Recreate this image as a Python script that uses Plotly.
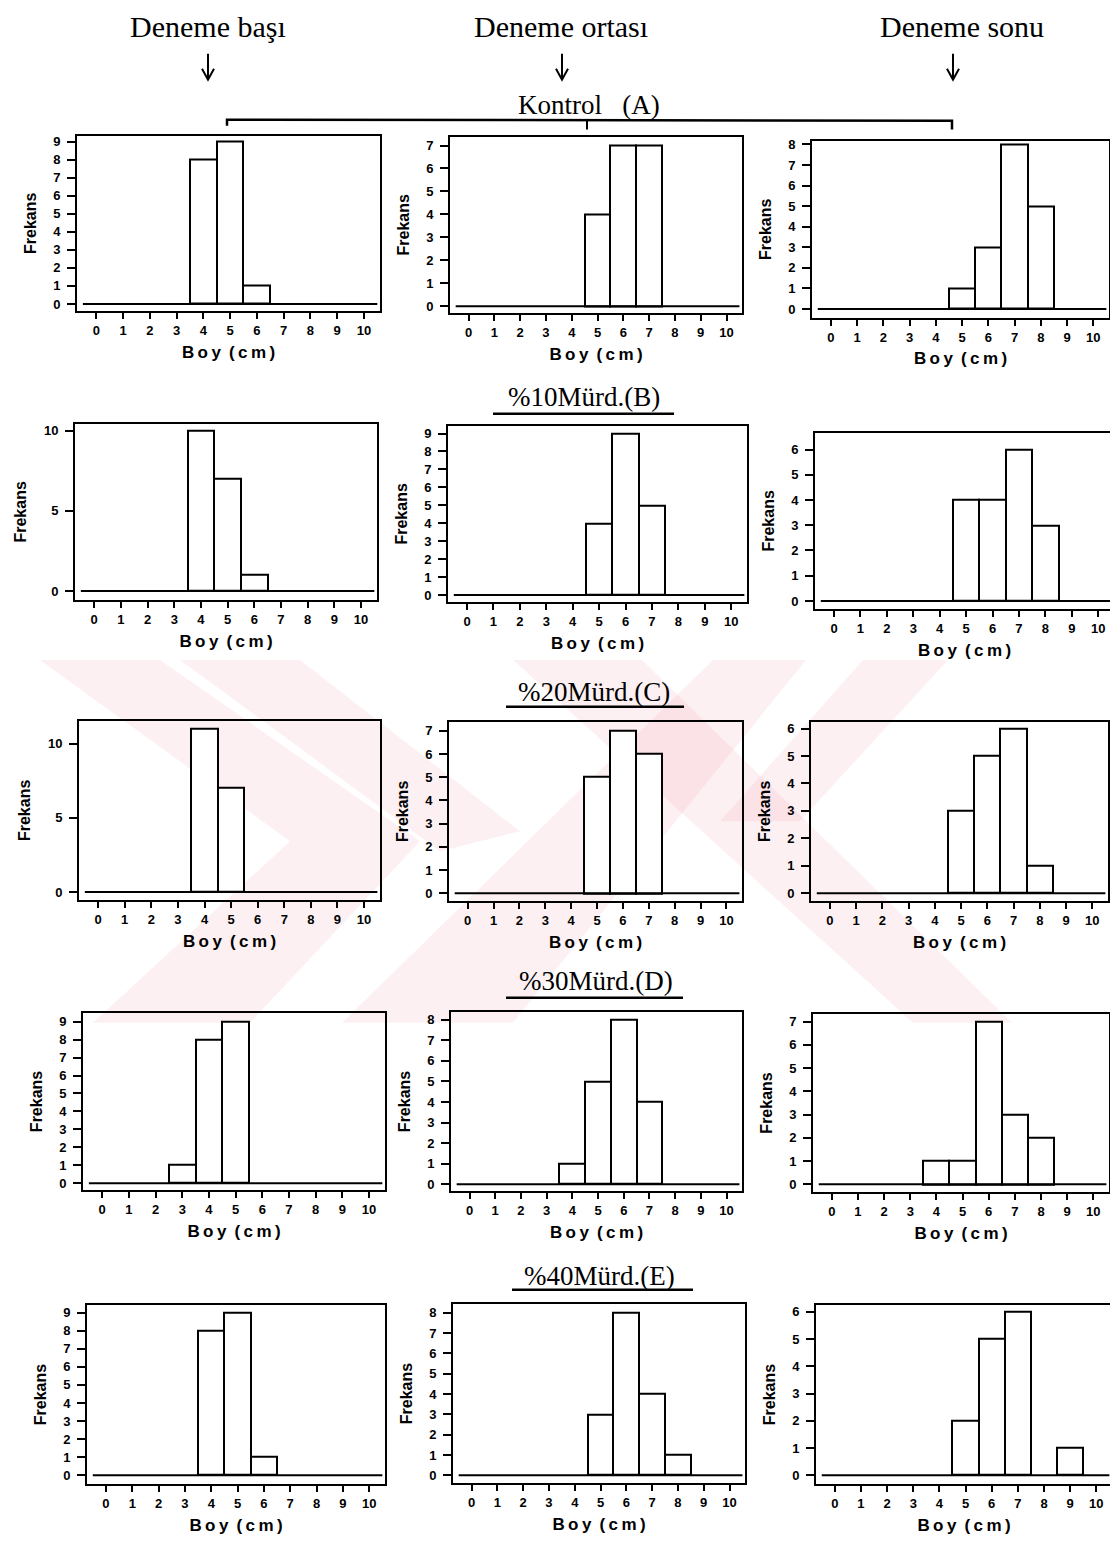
import plotly.graph_objects as go

W, H = 1118, 1543          # reference page size
OFF = 8                    # default page margin of the html body
FW, FH = W - OFF, H - OFF  # figure size

# ---------------- data ----------------
bins = list(range(0, 11))            # Boy (cm) classes 0..10
tick_labels = [str(b) for b in bins]

col_titles = ["Deneme başı", "Deneme ortası", "Deneme sonu"]
group_titles = ["Kontrol\u00a0\u00a0\u00a0(A)", "%10Mürd.(B)", "%20Mürd.(C)", "%30Mürd.(D)", "%40Mürd.(E)"]

# frequency per class (0..10 cm)
A_basi = [0, 0, 0, 0, 8, 9, 1, 0, 0, 0, 0]
A_orta = [0, 0, 0, 0, 0, 4, 7, 7, 0, 0, 0]
A_sonu = [0, 0, 0, 0, 0, 1, 3, 8, 5, 0, 0]
B_basi = [0, 0, 0, 0, 10, 7, 1, 0, 0, 0, 0]
B_orta = [0, 0, 0, 0, 0, 4, 9, 5, 0, 0, 0]
B_sonu = [0, 0, 0, 0, 0, 4, 4, 6, 3, 0, 0]
C_basi = [0, 0, 0, 0, 11, 7, 0, 0, 0, 0, 0]
C_orta = [0, 0, 0, 0, 0, 5, 7, 6, 0, 0, 0]
C_sonu = [0, 0, 0, 0, 0, 3, 5, 6, 1, 0, 0]
D_basi = [0, 0, 0, 1, 8, 9, 0, 0, 0, 0, 0]
D_orta = [0, 0, 0, 0, 1, 5, 8, 4, 0, 0, 0]
D_sonu = [0, 0, 0, 0, 1, 1, 7, 3, 2, 0, 0]
E_basi = [0, 0, 0, 0, 8, 9, 1, 0, 0, 0, 0]
E_orta = [0, 0, 0, 0, 0, 3, 8, 4, 1, 0, 0]
E_sonu = [0, 0, 0, 0, 0, 2, 5, 6, 0, 1, 0]

panel_data = [
    [A_basi, A_orta, A_sonu],
    [B_basi, B_orta, B_sonu],
    [C_basi, C_orta, C_sonu],
    [D_basi, D_orta, D_sonu],
    [E_basi, E_orta, E_sonu],
]

# ---------------- layout settings (reference pixels) ----------------
boxes = [
    [(77, 380, 132, 308), (450, 742, 133, 310), (812, 1109, 137, 315)],
    [(75, 377, 421, 598), (448, 747, 423, 600), (815, 1114, 430, 607)],
    [(79, 380, 719, 899), (449, 742, 720, 900), (811, 1108, 720, 900)],
    [(83, 385, 1012, 1190), (451, 742, 1011, 1191), (813, 1109, 1013, 1192)],
    [(87, 385, 1305, 1485), (453, 745, 1304, 1484), (816, 1112, 1305, 1485)],
]
yranges = [
    [(-0.39, 9.33), (-0.30, 7.39), (-0.44, 8.19)],
    [(-0.56, 10.43), (-0.39, 9.44), (-0.32, 6.67)],
    [(-0.54, 11.54), (-0.34, 7.39), (-0.29, 6.25)],
    [(-0.39, 9.5), (-0.34, 8.39), (-0.34, 7.34)],
    [(-0.5, 9.44), (-0.39, 8.44), (-0.33, 6.26)],
]
ydticks = [
    [1, 1, 1],
    [5, 1, 1],
    [5, 1, 1],
    [1, 1, 1],
    [1, 1, 1],
]
xrange_ = (-0.72, 10.6)


def px_x(x):
    return (x - OFF) / FW


def px_y(y):
    return 1 - (y - OFF) / FH


fig = go.Figure()
thin = "\u2009"
boy_title = thin.join(list("Boy")) + thin + " " + thin.join(list("(cm)"))

layout = {}
idx = 0
for r in range(5):
    for c in range(3):
        idx += 1
        counts = panel_data[r][c]
        xa = "x" if idx == 1 else f"x{idx}"
        ya = "y" if idx == 1 else f"y{idx}"
        # baseline of histogram (zero line over the class range)
        fig.add_trace(go.Scatter(
            x=[bins[0] - 0.5, bins[-1] + 0.5], y=[0, 0], mode="lines",
            line=dict(color="black", width=2), xaxis=xa, yaxis=ya,
            showlegend=False, hoverinfo="skip"))
        bx = [b for b, v in zip(bins, counts) if v > 0]
        by = [v for v in counts if v > 0]
        fig.add_trace(go.Bar(
            x=bx, y=by, width=1,
            marker=dict(color="white", line=dict(color="black", width=2)),
            xaxis=xa, yaxis=ya, showlegend=False))
        x0, x1, y0, y1 = boxes[r][c]
        xname = "xaxis" if idx == 1 else f"xaxis{idx}"
        yname = "yaxis" if idx == 1 else f"yaxis{idx}"
        layout[xname] = dict(
            domain=[max(0, px_x(x0)), min(1, px_x(x1))], anchor=ya, range=list(xrange_),
            tickmode="array", tickvals=bins, ticktext=tick_labels,
            ticks="outside", ticklen=6, tickwidth=2, tickcolor="black",
            showline=True, mirror=True, linecolor="black", linewidth=2,
            showgrid=False, zeroline=False,
            tickfont=dict(family="Liberation Sans", size=13, color="black", weight="bold"),
            title=dict(text=boy_title, standoff=9,
                       font=dict(family="Liberation Sans", size=17, color="black", weight="bold")),
        )
        layout[yname] = dict(
            domain=[px_y(y1), px_y(y0)], anchor=xa, range=list(yranges[r][c]),
            tick0=0, dtick=ydticks[r][c],
            ticks="outside", ticklen=8, tickwidth=2, tickcolor="black",
            ticklabelstandoff=4,
            showline=True, mirror=True, linecolor="black", linewidth=2,
            showgrid=False, zeroline=False,
            tickfont=dict(family="Liberation Sans", size=13, color="black", weight="bold"),
            title=dict(text="Frekans", standoff=13,
                       font=dict(family="Liberation Sans", size=16, color="black", weight="bold")),
        )

annotations = []
shapes = []

# watermark (faint pink stripes)
wm_color = "rgba(235,110,125,0.10)"
wm_polys = [
    [(40, 658), (160, 658), (420, 840), (250, 1022), (93, 1022), (290, 840)],
    [(180, 658), (300, 658), (520, 830), (440, 850)],
    [(342, 1022), (513, 1022), (806, 658), (713, 658)],
    [(513, 658), (642, 658), (1012, 1022), (913, 1022)],
    [(863, 658), (948, 658), (800, 820), (720, 820)],
]
for poly in wm_polys:
    path = "M " + " L ".join(f"{px_x(x):.5f},{px_y(y):.5f}" for x, y in poly) + " Z"
    shapes.append(dict(type="path", xref="paper", yref="paper", path=path,
                       fillcolor=wm_color, line=dict(width=0), layer="below"))

# column headers with arrows
col_centers = [208, 561, 962]
arrow_x = [208, 562, 953]
for t, cx, ax in zip(col_titles, col_centers, arrow_x):
    annotations.append(dict(text=t, x=px_x(cx), y=px_y(23), xref="paper", yref="paper",
                            showarrow=False, xanchor="center", yanchor="middle",
                            font=dict(family="Liberation Serif", size=30, color="black")))
    shapes.append(dict(type="line", xref="paper", yref="paper",
                       x0=px_x(ax), x1=px_x(ax), y0=px_y(50), y1=px_y(76),
                       line=dict(color="black", width=2)))
    path = (f"M {px_x(ax - 6):.5f},{px_y(65):.5f} L {px_x(ax):.5f},{px_y(76):.5f} "
            f"L {px_x(ax + 6):.5f},{px_y(65):.5f}")
    shapes.append(dict(type="path", xref="paper", yref="paper", path=path,
                       line=dict(color="black", width=2)))

# bracket under "Kontrol (A)"
path = (f"M {px_x(227):.5f},{px_y(122):.5f} L {px_x(227):.5f},{px_y(116):.5f} "
        f"L {px_x(952):.5f},{px_y(117):.5f} L {px_x(952):.5f},{px_y(126):.5f}")
shapes.append(dict(type="path", xref="paper", yref="paper", path=path,
                   line=dict(color="black", width=2.5)))
shapes.append(dict(type="line", xref="paper", yref="paper",
                   x0=px_x(587), x1=px_x(587), y0=px_y(116), y1=px_y(126),
                   line=dict(color="black", width=2)))

# group titles
group_pos = [(589, 101, None), (584, 394, (493, 674, 411)), (594, 690, (506, 684, 705)),
             (596, 980, (506, 683, 997)), (599, 1276, (512, 693, 1290))]
for t, (gx, gy, ul) in zip(group_titles, group_pos):
    annotations.append(dict(text=t, x=px_x(gx), y=px_y(gy), xref="paper", yref="paper",
                            showarrow=False, xanchor="center", yanchor="middle",
                            font=dict(family="Liberation Serif", size=27, color="black")))
    if ul:
        shapes.append(dict(type="line", xref="paper", yref="paper",
                           x0=px_x(ul[0]), x1=px_x(ul[1]), y0=px_y(ul[2]), y1=px_y(ul[2]),
                           line=dict(color="black", width=2.5)))

fig.update_layout(
    width=FW, height=FH, margin=dict(l=0, r=0, t=0, b=0),
    paper_bgcolor="white", plot_bgcolor="rgba(0,0,0,0)",
    showlegend=False, bargap=0,
    annotations=annotations, shapes=shapes,
    **layout,
)

fig.write_html("out.html")
